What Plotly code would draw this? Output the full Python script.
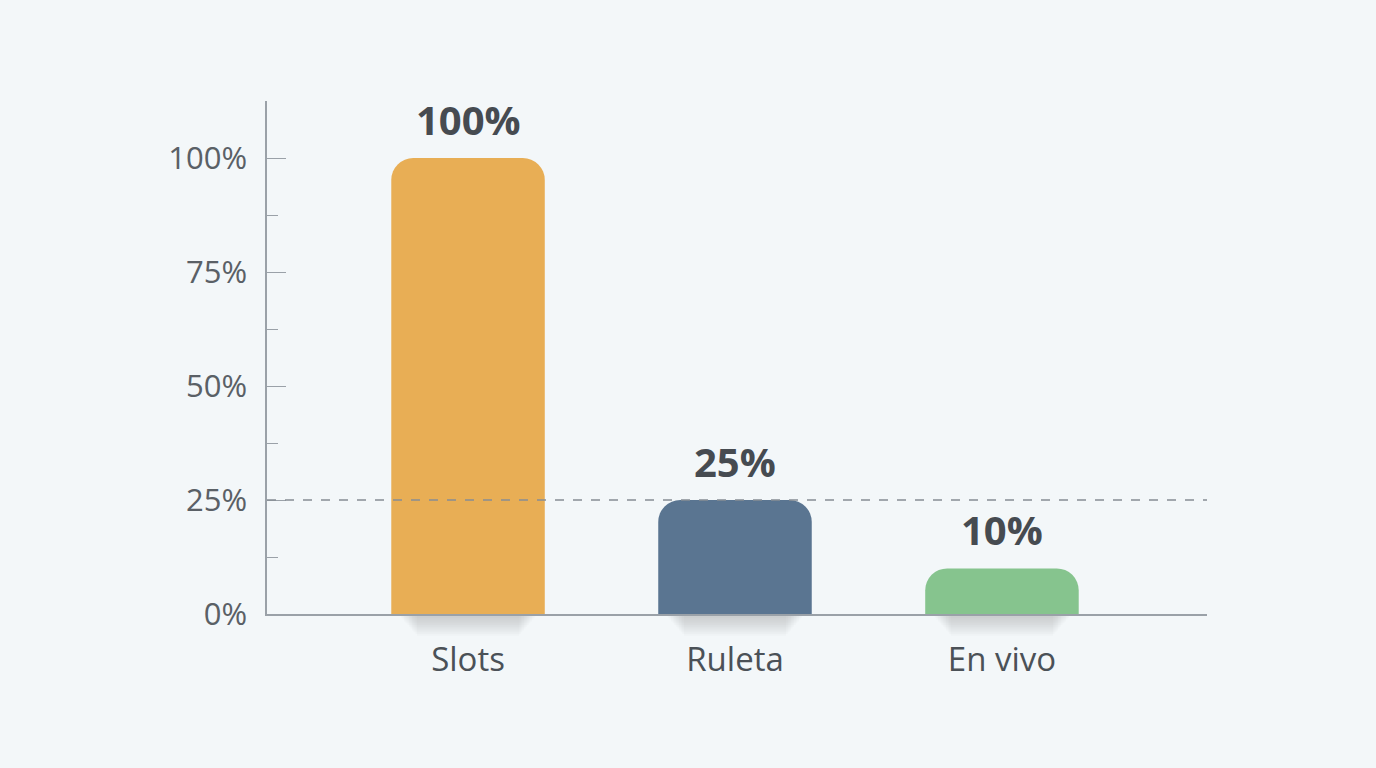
import plotly.graph_objects as go

# ---- data ----
categories = ["Slots", "Ruleta", "En vivo"]
values = [100, 25, 10]
bar_colors = ["#E8AE55", "#5A7591", "#86C48E"]
reference_value = 25
y_tickvals = [0, 25, 50, 75, 100]
y_ticktext = ["0%", "25%", "50%", "75%", "100%"]

Y_MIN, Y_MAX = 0, 112.5
BAR_WIDTH = 0.575
FONT = "Open Sans"
BG = "#F3F7F9"
AXIS_COLOR = "#9AA1A8"
TEXT_COLOR = "#50565C"
PLOT_H = 768 - 101 - 154

fig = go.Figure()
fig.add_trace(go.Bar(
    x=categories,
    y=values,
    marker=dict(color=bar_colors, line=dict(width=0)),
    width=BAR_WIDTH,
    hoverinfo="skip",
))

# value labels
for c, v in zip(categories, values):
    fig.add_annotation(
        x=c, y=v, text=f"{v}%", showarrow=False,
        yanchor="bottom", yshift=9,
        font=dict(family=FONT, size=40, color="#464B51", weight="bold"),
    )

# soft shadows under the bars
for i, _ in enumerate(categories):
    for k in range(12):
        half = BAR_WIDTH / 2 - 0.03 - 0.006 * k
        fig.add_shape(
            type="rect", xref="x", yref="paper",
            x0=i - half, x1=i + half, y0=0, y1=-(2 + 1.8 * k) / PLOT_H,
            fillcolor="#6A7076", opacity=0.028, line=dict(width=0),
            layer="below",
        )

# dashed reference line
fig.add_shape(
    type="line", xref="paper", x0=0, x1=1, yref="y",
    y0=reference_value, y1=reference_value,
    line=dict(color="#878D94", width=1.3, dash="dash"),
    layer="above",
)

fig.update_layout(
    width=1376, height=768,
    margin=dict(l=267, r=169, t=101, b=154),
    paper_bgcolor=BG, plot_bgcolor=BG,
    showlegend=False,
    barcornerradius=22,
    font=dict(family=FONT, color=TEXT_COLOR),
    xaxis=dict(
        range=[-0.753, 2.768],
        showgrid=False, zeroline=False,
        showline=True, linecolor=AXIS_COLOR, linewidth=1.5,
        ticks="", tickfont=dict(family=FONT, size=33, color="#4B5157"),
        ticklabelstandoff=16,
    ),
    yaxis=dict(
        range=[Y_MIN, Y_MAX],
        showgrid=False, zeroline=False,
        showline=True, linecolor=AXIS_COLOR, linewidth=1.5,
        tickvals=y_tickvals, ticktext=y_ticktext,
        ticks="inside", ticklen=19, tickwidth=1.3, tickcolor=AXIS_COLOR,
        tickfont=dict(family=FONT, size=31, color="#5A6066"),
        ticklabelstandoff=12,
        minor=dict(tick0=0, dtick=12.5, ticks="inside", ticklen=11,
                   tickwidth=1.3, tickcolor=AXIS_COLOR),
    ),
)

fig.write_html(
    "out.html",
    config={"displayModeBar": False},
    post_script="document.body.style.margin='0';"
                "document.body.style.background='#F3F7F9';",
)
